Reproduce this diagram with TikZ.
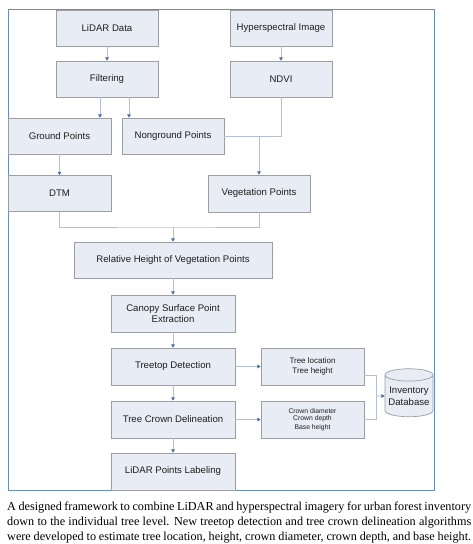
\documentclass[tikz,border=0pt]{standalone}
\usepackage{fontspec}
\setmainfont{Liberation Serif}
\setsansfont{Liberation Sans}
\usetikzlibrary{arrows.meta,shapes.geometric,calc}
\definecolor{boxfill}{HTML}{E8ECF4}
\definecolor{boxline}{HTML}{9C9EA4}
\definecolor{connline}{HTML}{B4C0D0}
\definecolor{tipblue}{HTML}{4A6DA7}
\definecolor{framecol}{HTML}{6A8FB5}
\definecolor{txt}{HTML}{1E1E1E}
\begin{document}
\begin{tikzpicture}[x=1pt,y=-1pt,
  box/.style={draw=boxline,fill=boxfill,line width=0.7pt,inner sep=0pt,align=center,
    text=txt,font=\sffamily\fontsize{9.6}{11.5}\selectfont},
  line/.style={draw=connline,line width=0.8pt},
  conn/.style={line,-{Triangle[width=3.6pt,length=3.2pt,color=tipblue]}},
  captionline/.style={anchor=base west,inner sep=0pt,font=\rmfamily\fontsize{12.2}{15}\selectfont,text=black}]
\useasboundingbox (0,0) rectangle (472,544);
\draw[framecol,line width=0.9pt] (8,9) rectangle (434,490);
\node[box,minimum width=102pt,minimum height=36pt] (lidar) at (107,28) {LiDAR Data};
\node[box,minimum width=102pt,minimum height=36pt] (hyper) at (281,28) {Hyperspectral Image};
\node[box,minimum width=102pt,minimum height=36pt] (filt) at (107,79) {Filtering};
\node[box,minimum width=102pt,minimum height=36pt] (ndvi) at (281,79) {NDVI};
\node[box,minimum width=103pt,minimum height=36pt] (ground) at (59.5,136) {Ground Points};
\node[box,minimum width=102pt,minimum height=36pt] (nonground) at (173,136) {Nonground Points};
\node[box,minimum width=103pt,minimum height=36pt] (dtm) at (59.5,193.5) {DTM};
\node[box,minimum width=102pt,minimum height=37pt] (veg) at (259,193.5) {Vegetation Points};
\node[box,minimum width=198pt,minimum height=36pt] (rel) at (173,260) {Relative Height of Vegetation Points};
\node[box,minimum width=124pt,minimum height=37pt] (canopy) at (173,313.5) {Canopy Surface Point\\Extraction};
\node[box,minimum width=124pt,minimum height=37pt] (treetop) at (173,366.5) {Treetop Detection};
\node[box,minimum width=124pt,minimum height=37pt] (crown) at (173,419.5) {Tree Crown Delineation};
\node[box,minimum width=124pt,minimum height=37pt] (labeling) at (173,471.5) {LiDAR Points Labeling};
\node[box,minimum width=103pt,minimum height=37pt,font=\sffamily\fontsize{8}{10}\selectfont] (loc) at (312.5,366.5) {Tree location\\Tree height};
\node[box,minimum width=103pt,minimum height=37pt,font=\sffamily\fontsize{6.8}{7.2}\selectfont] (cdia) at (312.5,419.5) {Crown diameter\\Crown depth\\[1.5pt]Base height};
\node[box,cylinder,shape border rotate=90,aspect=0.3,minimum width=48pt,minimum height=48pt,
  font=\sffamily\fontsize{9.6}{11.5}\selectfont] (db) at (409,396) {Inventory\\Database};
% connectors
\draw[conn] (lidar) -- (filt);
\draw[conn] (hyper) -- (ndvi);
\draw[conn] ([xshift=-7pt]filt.south) -- ([xshift=-7pt]filt.south |- ground.north);
\draw[conn] ([xshift=22pt]filt.south) -- ([xshift=22pt]filt.south |- nonground.north);
\draw[conn] (ground) -- (dtm);
\draw[line] (ndvi.south) |- (nonground.east);
\draw[conn] (nonground.east -| veg.north) -- (veg.north);
\coordinate (j2) at (173,227);
\draw[line] (dtm.south) |- (j2) -| (veg.south);
\draw[conn] (j2) -- (rel.north);
\draw[conn] (rel) -- (canopy);
\draw[conn] (canopy) -- (treetop);
\draw[conn] (treetop) -- (crown);
\draw[conn] (crown) -- (labeling);
\draw[conn] (treetop) -- (loc);
\draw[conn] (crown) -- (cdia);
\coordinate (j3) at (376,396);
\draw[line] ([yshift=-8.5pt]loc.east) -| (j3 |- cdia.east) -- (cdia.east);
\draw[conn] (j3) -- (db.west);
% caption
\node[captionline] (cap1) at (7,510) {\hbox to 464pt{A designed framework to combine LiDAR and hyperspectral imagery for urban forest inventory}};
\node[captionline] (cap2) at (7,525) {\hbox to 464pt{down to the individual tree level. New treetop detection and tree crown delineation algorithms}};
\node[captionline] (cap3) at (7,540) {\hbox to 464pt{were developed to estimate tree location, height, crown diameter, crown depth, and base height.}};
\end{tikzpicture}
\end{document}
